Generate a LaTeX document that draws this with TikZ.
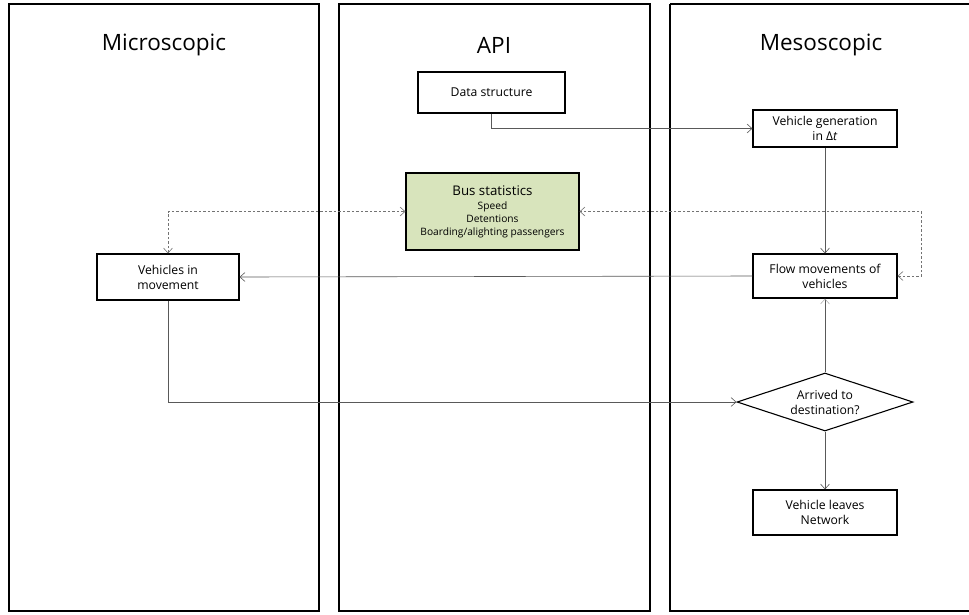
\documentclass[tikz,border=0pt]{standalone}
\usepackage{fontspec}
\setmainfont{Open Sans}
\usetikzlibrary{shapes.geometric,arrows.meta}
\begin{document}
\begin{tikzpicture}[x=1pt,y=-1pt,
  lane/.style={draw=black,line width=1.3pt},
  lanetitle/.style={font=\fontsize{22.5}{26}\selectfont},
  proc/.style={draw=black,line width=1.1pt,fill=white,align=center,
    font=\fontsize{12.2}{15}\selectfont,inner sep=0pt},
  link/.style={draw=black!65,line width=0.6pt,-{Straight Barb[length=5pt,width=9pt]}},
  dlink/.style={draw=black!55,line width=0.6pt,dashed,dash pattern=on 2.5pt off 2pt,
    {Straight Barb[length=5pt,width=9pt]}-{Straight Barb[length=5pt,width=9pt]}}]
\useasboundingbox (0,0) rectangle (969,614);
% swimlanes
\draw[lane] (9,4) rectangle (319,611);
\draw[lane] (339,4) rectangle (650,611);
\draw[lane] (670,4) -- (670,611) -- (975,611);
\draw[lane] (670,4) -- (975,4);
\node[lanetitle] (tmic) at (164,45) {Microscopic};
\node[lanetitle] (tapi) at (494,45) {API};
\node[lanetitle] (tmes) at (821,45) {Mesoscopic};
% boxes
\node[proc,minimum width=147pt,minimum height=41pt] (data) at (491.5,92.5) {Data structure};
\node[proc,minimum width=144pt,minimum height=37pt] (gen) at (825,128.5) {Vehicle generation\\in Δ\textit{t}};
\node[proc,fill={rgb,255:red,216;green,228;blue,188},minimum width=173pt,minimum height=77pt] (bus) at (492.5,211.5)
  {{\fontsize{13.3}{14}\selectfont Bus statistics}\\[-1pt]
   {\fontsize{10.2}{14}\selectfont Speed}\\[-2pt]
   {\fontsize{10.2}{14}\selectfont Detentions}\\[-2pt]
   {\fontsize{10.2}{14}\selectfont Boarding/alighting passengers}};
\node[proc,minimum width=142pt,minimum height=46pt] (mic) at (168,277) {Vehicles in\\movement};
\node[proc,minimum width=144pt,minimum height=44pt] (flow) at (825,276) {Flow movements of\\vehicles};
\node[proc,diamond,aspect=3.03,minimum width=176pt,minimum height=58pt] (arr) at (825,402) {Arrived to\\destination?};
\node[proc,minimum width=144pt,minimum height=45pt] (leave) at (825,512.5) {Vehicle leaves\\Network};
% connectors
\draw[link] (data.south) |- (gen.west);
\draw[link] (gen.south) -- (flow.north);
\draw[link] (flow.west) -- (mic.east);
\draw[link] (mic.south) |- (arr.west);
\draw[draw=black!65,line width=0.6pt,-{Straight Barb[length=5pt,width=9pt,color=black!30]}] (arr.north) -- (flow.south);
\draw[link] (arr.south) -- (leave.north);
\coordinate (cl) at (mic.north |- bus.west);
\coordinate (cr) at ([xshift=24pt]flow.east |- bus.east);
\draw[dlink] (mic.north) -- (cl) -- (bus.west);
\draw[dlink] (flow.east) -| (cr) -- (bus.east);
\end{tikzpicture}
\end{document}
